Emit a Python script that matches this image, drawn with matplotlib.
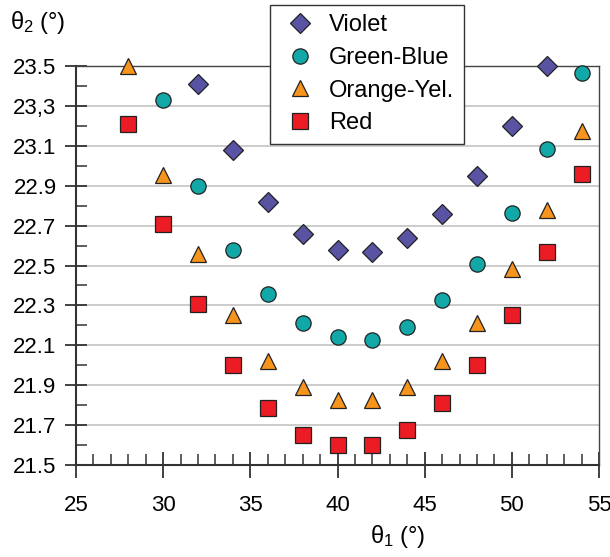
import numpy as np
import matplotlib
matplotlib.use('Agg')
import matplotlib.pyplot as plt
from matplotlib.ticker import MultipleLocator, FixedLocator

plt.rcParams['font.family'] = ['Liberation Sans', 'DejaVu Sans']
plt.rcParams['mathtext.fontset'] = 'custom'
plt.rcParams['mathtext.rm'] = 'Liberation Sans'
plt.rcParams['mathtext.it'] = 'Liberation Sans'

# theta_1 positions (deg)
x_violet = [32, 34, 36, 38, 40, 42, 44, 46, 48, 50, 52]
y_violet = [23.41, 23.08, 22.82, 22.66, 22.58, 22.57, 22.64, 22.76, 22.95, 23.20, 23.50]

x_green = [30, 32, 34, 36, 38, 40, 42, 44, 46, 48, 50, 52, 54]
y_green = [23.33, 22.90, 22.58, 22.355, 22.21, 22.14, 22.125, 22.19, 22.325, 22.51, 22.765, 23.085, 23.465]

x_orange = [28, 30, 32, 34, 36, 38, 40, 42, 44, 46, 48, 50, 52, 54]
y_orange = [23.50, 22.955, 22.56, 22.25, 22.02, 21.89, 21.825, 21.825, 21.89, 22.02, 22.21, 22.48, 22.78, 23.175]

x_red = [28, 30, 32, 34, 36, 38, 40, 42, 44, 46, 48, 50, 52, 54]
y_red = [23.21, 22.71, 22.305, 22.0, 21.785, 21.65, 21.60, 21.60, 21.675, 21.81, 22.0, 22.25, 22.57, 22.96]

y_ticks = [21.5, 21.7, 21.9, 22.1, 22.3, 22.5, 22.7, 22.9, 23.1, 23.3, 23.5]
y_ticklabels = ['21.5', '21.7', '21.9', '22.1', '22.3', '22.5', '22.7', '22.9', '23.1', '23,3', '23.5']
x_ticks = [25, 30, 35, 40, 45, 50, 55]

W, H = 610, 557
fig = plt.figure(figsize=(W / 100, H / 100), dpi=100)
ax = fig.add_axes([76 / W, 1 - 465 / H, (599 - 76) / W, (465 - 66) / H])

edge = '#222222'
ax.plot(x_violet, y_violet, 'D', ms=10, mfc='#5953a4', mec=edge, mew=0.9,
        label='Violet', clip_on=False, zorder=3)
ax.plot(x_green, y_green, 'o', ms=11, mfc='#13a8a8', mec=edge, mew=0.9,
        label='Green-Blue', clip_on=False, zorder=3)
ax.plot(x_orange, y_orange, '^', ms=12, mfc='#f7941d', mec=edge, mew=0.9,
        label='Orange-Yel.', clip_on=False, zorder=3)
ax.plot(x_red, y_red, 's', ms=11, mfc='#ec1c24', mec=edge, mew=0.9,
        label='Red', clip_on=False, zorder=3)

ax.set_xlim(25, 55)
ax.set_ylim(21.5, 23.5)
ax.xaxis.set_major_locator(FixedLocator(x_ticks))
ax.xaxis.set_minor_locator(MultipleLocator(1))
ax.yaxis.set_major_locator(FixedLocator(y_ticks))
ax.set_yticklabels(y_ticklabels)
ax.yaxis.set_minor_locator(FixedLocator(np.arange(21.6, 23.5, 0.2)))

ax.grid(axis='y', which='major', color='#c4c4c4', lw=1.2, zorder=0)
ax.set_axisbelow(True)

ax.tick_params(axis='both', which='major', direction='inout', color='#333333',
               width=1.3, labelsize=16, top=False, right=False)
ax.tick_params(axis='y', which='major', length=16, pad=6)
ax.tick_params(axis='x', which='major', length=19, pad=12)
ax.tick_params(axis='both', which='minor', direction='in', length=8,
               width=1.1, color='#333333', top=False, right=False)

for s in ['left', 'bottom']:
    ax.spines[s].set_color('#333333')
    ax.spines[s].set_linewidth(1.5)
for s in ['top', 'right']:
    ax.spines[s].set_color('#444444')
    ax.spines[s].set_linewidth(1.0)

fig.text(10 / W, 1 - 22 / H, r'$\theta_2$ (°)', fontsize=17, va='center', ha='left')
fig.text(398 / W, 1 - 537 / H, r'$\theta_1$ (°)', fontsize=17, va='center', ha='center')

leg = ax.legend(loc='upper left', bbox_to_anchor=(270 / W, 1 - 5 / H),
                bbox_transform=fig.transFigure, fontsize=17, frameon=True,
                fancybox=False, borderpad=0.4, labelspacing=0.45,
                handlelength=1.75, handletextpad=0.35, borderaxespad=0)
leg.get_frame().set_edgecolor('#333333')
leg.get_frame().set_linewidth(1.0)
leg.get_frame().set_alpha(1)
leg.set_zorder(5)

fig.savefig('out.png', dpi=100)
